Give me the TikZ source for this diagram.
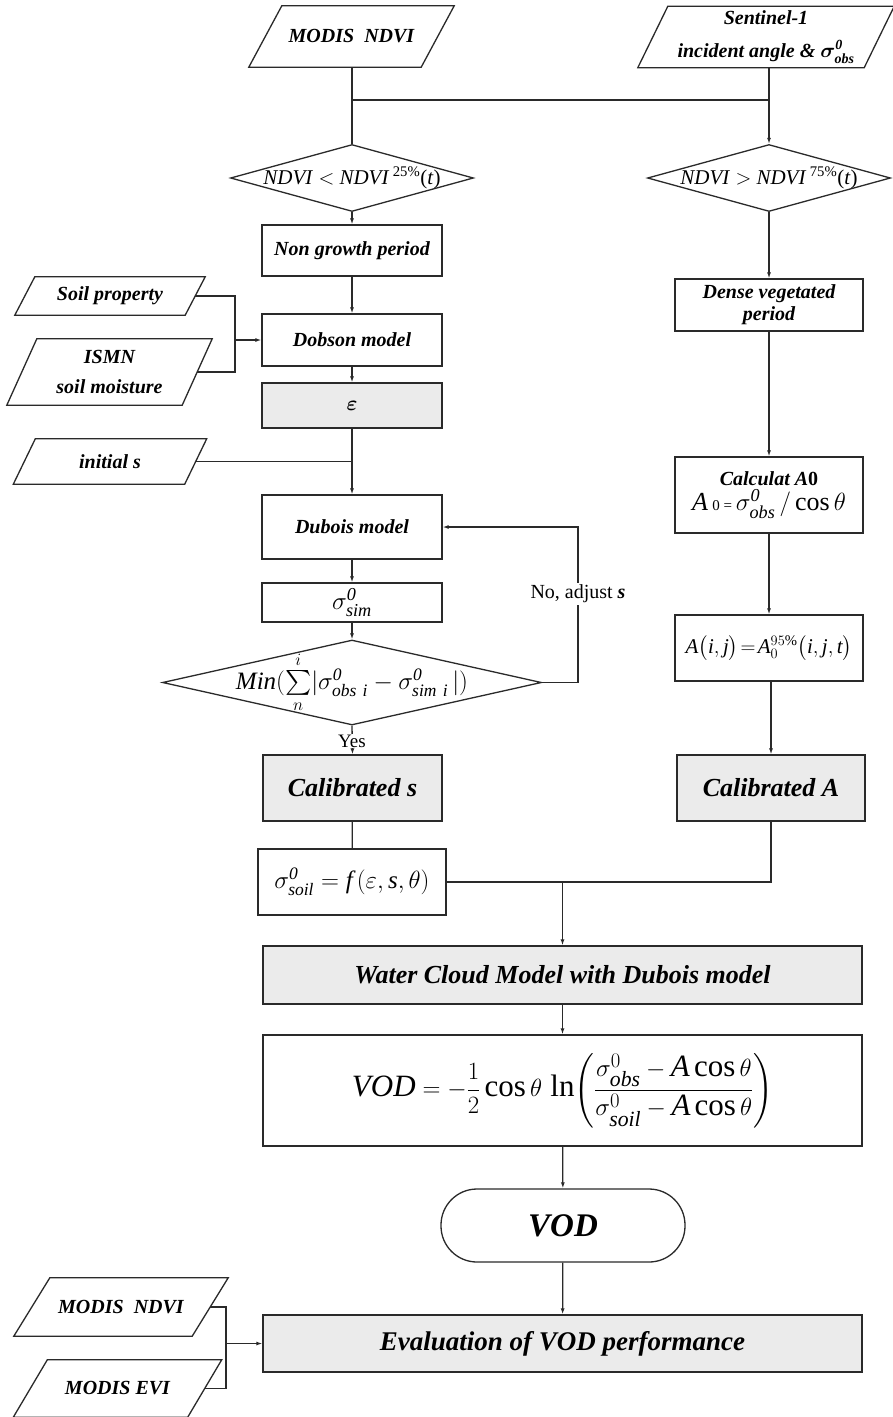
\documentclass[tikz,border=0pt]{standalone}
\usepackage{amsmath}
\usepackage{fontspec}
\setmainfont{Liberation Serif}
\usetikzlibrary{shapes.geometric,arrows.meta,calc}
\definecolor{lc}{HTML}{2A2A2A}
\definecolor{gfill}{HTML}{EBEBEB}
\begin{document}
\begin{tikzpicture}[x=1pt,y=-1pt,
  lab/.style={font=\fontsize{20}{26}\selectfont\bfseries\itshape},
  box/.style={rectangle, draw=lc, line width=1.3pt, inner sep=0pt, align=center, text=black},
  gbox/.style={box, fill=gfill},
  io/.style={rectangle, inner sep=0pt, align=center, font=\fontsize{20}{30}\selectfont\bfseries\itshape},
  dia/.style={diamond, draw=lc, line width=1.3pt, inner sep=0pt, aspect=2},
  conn/.style={draw=lc, line width=1.3pt},
  ar/.style={conn, -{Latex[length=6pt,width=4pt]}},
]
\useasboundingbox (0,0) rectangle (892,1417);
\fill[white] (0,0) rectangle (892,1417);

% inputs
\node[io, minimum width=172pt, minimum height=61pt] (m1) at (351.5,36.5) {MODIS\ \ NDVI};
\node[io, minimum width=226pt, minimum height=61pt, font=\fontsize{20}{33}\selectfont\bfseries\itshape] (sent) at (766,37) {Sentinel-1\\incident angle \& {\boldmath$\sigma^{\mathit{0}}_{\mathit{obs}}$}};
\node[io, minimum width=170pt, minimum height=38pt] (soil) at (110,296) {Soil property};
\node[io, minimum width=175pt, minimum height=66pt] (ismn) at (109.5,372) {ISMN\\soil moisture};
\node[io, minimum width=171pt, minimum height=45pt] (init) at (110,461.5) {initial s};
\node[io, minimum width=178pt, minimum height=58pt] (m2) at (121,1307) {MODIS\ \ NDVI};
\node[io, minimum width=174pt, minimum height=57pt] (evi) at (117.5,1388.5) {MODIS EVI};
\foreach \n/\s in {m1/16.5, sent/15, soil/10, ismn/15, init/11, m2/18, evi/17}
  \draw[conn] ([xshift=\s pt]\n.north west) -- ([xshift=\s pt]\n.north east) -- ([xshift=-\s pt]\n.south east) -- ([xshift=-\s pt]\n.south west) -- cycle;

% decisions
\node[dia, minimum width=243pt, minimum height=67pt, font=\fontsize{21}{24}\selectfont] (d1) at (352,178) {\makebox[0pt]{\textit{NDVI} $<$ \textit{NDVI}\,\textsuperscript{25\%}(\textit{t})}};
\node[dia, minimum width=243pt, minimum height=67pt, font=\fontsize{21}{24}\selectfont] (d2) at (769,178) {\makebox[0pt]{\textit{NDVI} $>$ \textit{NDVI}\,\textsuperscript{75\%}(\textit{t})}};

% left column
\node[box, lab, minimum width=180pt, minimum height=51pt] (ng) at (352,250.5) {Non growth period};
\node[box, lab, minimum width=180pt, minimum height=52pt] (dobson) at (352,340) {Dobson model};
\node[gbox, minimum width=180pt, minimum height=45pt, font=\fontsize{22}{26}\selectfont] (eps) at (352,405.5) {$\boldsymbol{\varepsilon}$};
\node[box, lab, minimum width=180pt, minimum height=64pt] (dubois) at (352,527) {Dubois model};
\node[box, minimum width=180pt, minimum height=39pt, font=\fontsize{26}{30}\selectfont] (sim) at (352,602.5) {$\sigma^{\mathit{0}}_{\mathit{sim}}$};
\node[dia, minimum width=379pt, minimum height=85pt, font=\fontsize{25}{30}\selectfont] (mind) at (352,682.5) {\makebox[0pt]{\textit{Min}$(\textstyle\sum\limits_{n}^{i}\!|\sigma^{\mathit{0}}_{\mathit{obs\ i}} -\sigma^{\mathit{0}}_{\mathit{sim\ i}}\,|)$}};
\node[gbox, minimum width=179pt, minimum height=66pt, font=\fontsize{26}{30}\selectfont\bfseries\itshape] (cals) at (352.5,788) {Calibrated s};
\node[box, minimum width=188pt, minimum height=66pt, font=\fontsize{25}{30}\selectfont] (soilbox) at (352,882) {$\sigma^{\mathit{0}}_{\mathit{soil}} = \mathit{f}\,(\varepsilon,\mathit{s},\theta)$};

% right column
\node[box, lab, minimum width=188pt, minimum height=52pt, font=\fontsize{20}{22}\selectfont\bfseries\itshape] (dense) at (769,305) {Dense vegetated\\period};
\node[box, minimum width=188pt, minimum height=76pt] (calca) at (769,495) {{\fontsize{20}{24}\selectfont\bfseries\itshape Calculat A}{\fontsize{20}{24}\selectfont\bfseries 0}\\[3pt]{\fontsize{26}{30}\selectfont $\mathit{A}$\,{\fontsize{15}{16}\selectfont 0 = }$\sigma^{\mathit{0}}_{\mathit{obs}}\,/\cos\theta$}};
\node[box, minimum width=188pt, minimum height=66pt, font=\fontsize{21}{26}\selectfont] (aij) at (769,648) {$\mathit{A}\bigl(\mathit{i},\mathit{j}\bigr)\!=\!\mathit{A}_0^{95\%}\bigl(\mathit{i},\mathit{j},\mathit{t}\bigr)$};
\node[gbox, minimum width=188pt, minimum height=66pt, font=\fontsize{26}{30}\selectfont\bfseries\itshape] (cala) at (771,788) {Calibrated A};

% bottom
\node[gbox, minimum width=599pt, minimum height=58pt, font=\fontsize{26}{30}\selectfont\bfseries\itshape] (wcm) at (562.5,975) {Water Cloud Model with Dubois model};
\node[box, minimum width=599pt, minimum height=111pt, font=\fontsize{31}{36}\selectfont] (vodf) at (562.5,1090.5) {$\mathit{VOD} = -\dfrac{1}{2}\cos\theta\,\ln\!\left(\dfrac{\sigma^{0}_{\mathit{obs}} - \mathit{A}\cos\theta}{\sigma^{0}_{\mathit{soil}} - \mathit{A}\cos\theta}\right)$};
\node[box, rounded corners=36pt, minimum width=244pt, minimum height=73pt, font=\fontsize{33}{36}\selectfont\bfseries\itshape] (vod) at (563,1225.5) {VOD};
\node[gbox, minimum width=599pt, minimum height=57pt, font=\fontsize{27}{30}\selectfont\bfseries\itshape] (eval) at (562.5,1343.5) {Evaluation of VOD performance};

% junction coordinates
\coordinate (h1) at (352,100);
\coordinate (h2) at (769,100);
\coordinate (b1) at (235,340);
\coordinate (fb) at (578,682.5);
\coordinate (j3) at (771,882);
\coordinate (j4) at (562.5,882);
\coordinate (b2) at (226,1343.5);

% connectors
\draw[conn] (m1.south -| d1.north) -- (d1.north);
\draw[ar] (sent.south -| d2.north) -- (d2.north);
\draw[conn] (h1) -- (h2);
\draw[ar] (d1.south) -- (ng.north);
\draw[ar] (d2.south) -- (dense.north);
\draw[ar] (ng) -- (dobson);
\draw[conn] (soil.east) -| (b1) |- (ismn.east);
\draw[ar] (b1) -- (dobson.west);
\draw[ar] (dobson) -- (eps);
\draw[ar] (eps) -- (dubois);
\draw[conn] (init.east) -- (init.east -| eps.south);
\draw[ar] (dubois) -- (sim);
\draw[ar] (sim) -- (mind.north);
\draw[conn] (mind.east) -- (fb);
\draw[ar] (fb) |- (dubois.east);
\node[fill=white, inner sep=2pt, font=\fontsize{20}{24}\selectfont] (no) at (578,594) {No, adjust \textbf{\textit{s}}};
\draw[ar] (mind.south) -- (cals.north);
\node[fill=white, inner sep=1pt, font=\fontsize{19}{22}\selectfont] (yes) at (352,741) {Yes};
\draw[conn] (cals) -- (soilbox);
\draw[ar] (dense) -- (calca);
\draw[ar] (calca) -- (aij);
\draw[ar] (aij.south) -- (aij.south -| cala.north) -- (cala.north);
\draw[conn] (soilbox.east) -- (j3) -- (cala.south);
\draw[ar] (j4) -- (wcm.north);
\draw[ar] (wcm) -- (vodf);
\draw[ar] (vodf) -- (vod);
\draw[ar] (vod) -- (eval);
\draw[conn] (m2.east) -| (b2) |- (evi.east);
\draw[ar] (b2) -- (eval.west);
\end{tikzpicture}
\end{document}
